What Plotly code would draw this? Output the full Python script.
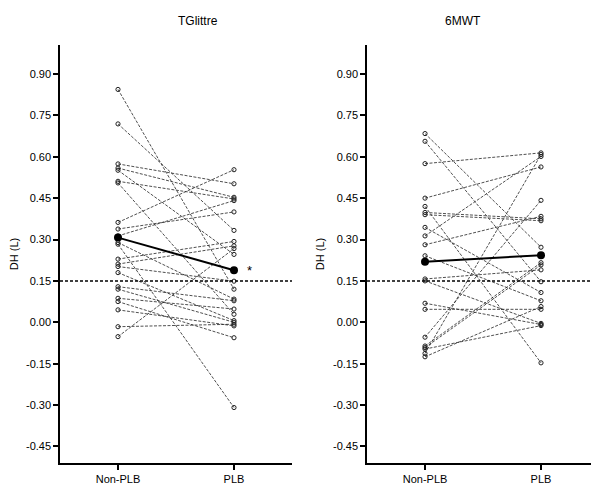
import numpy as np
import plotly.graph_objects as go
from plotly.subplots import make_subplots

categories = ["Non-PLB", "PLB"]
panel_titles = ["TGlittre", "6MWT"]

# TGlittre: paired DH (L) values per subject
tg_nonplb = [0.844, 0.719, 0.574, 0.559, 0.551, 0.511, 0.505, 0.362, 0.338, 0.313, 0.289, 0.283,
             0.229, 0.211, 0.202, 0.180, 0.129, 0.120, 0.087, 0.075, 0.045, -0.016, -0.052]
tg_plb = [0.120, 0.333, 0.502, 0.453, 0.246, 0.447, 0.029, 0.553, 0.400, 0.441, 0.084, -0.309,
          0.293, 0.277, 0.149, 0.006, 0.078, 0.000, 0.048, -0.056, -0.013, -0.007, 0.267]

# 6MWT: paired DH (L) values per subject
mw_nonplb = [0.684, 0.656, 0.575, 0.450, 0.420, 0.398, 0.390, 0.344, 0.313, 0.281, 0.241, 0.157,
             0.150, 0.069, 0.047, -0.054, -0.086, -0.092, -0.097, -0.113, -0.125]
mw_plb = [0.272, 0.147, 0.614, 0.563, -0.147, 0.375, 0.368, 0.108, 0.601, 0.384, 0.078, 0.190,
          -0.004, -0.008, 0.047, 0.442, 0.216, 0.208, -0.012, 0.608, 0.057]

threshold = 0.15
ytick_vals = [0.90, 0.75, 0.60, 0.45, 0.30, 0.15, 0.00, -0.15, -0.30, -0.45]
ytick_text = ["0.90", "0.75", "0.60", "0.45", "0.30", "0.15", "0.00", "-0.15", "-0.30", "-0.45"]

FONT = "Liberation Sans, Arial, sans-serif"

fig = make_subplots(rows=1, cols=2, horizontal_spacing=0.1392)

panels = [(tg_nonplb, tg_plb), (mw_nonplb, mw_plb)]
for i, (a, b) in enumerate(panels, start=1):
    for va, vb in zip(a, b):
        fig.add_trace(go.Scatter(
            x=categories, y=[va, vb], mode="lines+markers",
            line=dict(color="#222", width=0.8, dash="3px,1.5px"),
            marker=dict(symbol="circle-open", size=4.2, color="#222", line=dict(width=1)),
            showlegend=False, hoverinfo="skip"), row=1, col=i)
    fig.add_trace(go.Scatter(
        x=categories, y=[float(np.mean(a)), float(np.mean(b))], mode="lines+markers",
        line=dict(color="black", width=2),
        marker=dict(symbol="circle", size=8, color="black"),
        showlegend=False, hoverinfo="skip"), row=1, col=i)
    fig.add_shape(type="line", xref=f"x{'' if i == 1 else i} domain", yref=f"y{'' if i == 1 else i}",
                  x0=0, x1=1, y0=threshold, y1=threshold,
                  line=dict(color="black", width=1.5, dash="3px,2px"))

fig.add_annotation(x=1.13, y=float(np.mean(tg_plb)), xref="x", yref="y", text="*",
                   showarrow=False, font=dict(size=13, color="black", family=FONT))

for i, t in enumerate(panel_titles):
    fig.add_annotation(x=0.215 if i == 0 else 0.785, y=1.0, xref="paper", yref="paper",
                       yshift=33, text=t, showarrow=False,
                       font=dict(size=12, color="black", family=FONT))

axis_common = dict(showline=True, linecolor="black", linewidth=1.5, ticks="outside",
                   ticklen=5, tickwidth=1.5, tickcolor="black", showgrid=False, zeroline=False,
                   tickfont=dict(size=11, color="black", family=FONT))
for i in (1, 2):
    fig.update_xaxes(range=[-0.5, 1.5], type="category", row=1, col=i, **axis_common)
    fig.update_yaxes(range=[-0.51, 1.005], tickvals=ytick_vals, ticktext=ytick_text,
                     title=dict(text="DH (L)", font=dict(size=11, color="black", family=FONT),
                                standoff=6),
                     row=1, col=i, **axis_common)

fig.update_layout(width=591, height=487, plot_bgcolor="white", paper_bgcolor="white",
                  margin=dict(l=52, r=0, t=37, b=32), font=dict(family=FONT, color="black"))

fig.write_html("out.html")
